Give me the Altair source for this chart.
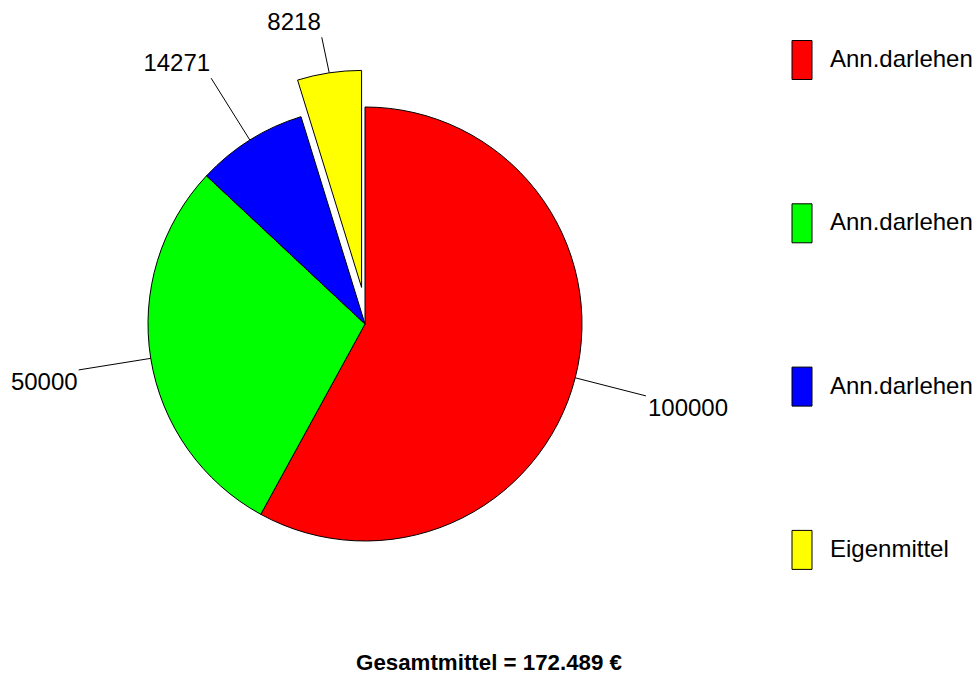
import altair as alt
import pandas as pd

# Data
labels = ["Ann.darlehen", "Ann.darlehen", "Ann.darlehen", "Eigenmittel"]
values = [100000, 50000, 14271, 8218]
colors = ["#ff0000", "#00ff00", "#0000ff", "#ffff00"]
title_text = "Gesamtmittel = 172.489 €"

df = pd.DataFrame({"i": list(range(len(values))), "name": labels, "value": values})

FONT = "Liberation Sans"
CX, CY, R = 365, 324, 217
EXPLODE = 37
LINE_R = 290

base = alt.Chart(df).transform_window(
    cum="sum(value)", sort=[alt.SortField("i")], frame=[None, 0]
).transform_joinaggregate(
    total="sum(value)"
).transform_calculate(
    a0="2*PI*(datum.cum - datum.value)/datum.total",
    a1="2*PI*datum.cum/datum.total",
).transform_calculate(
    mid="(datum.a0 + datum.a1)/2",
    ex=f"datum.i == 3 ? {EXPLODE} : 0",
).transform_calculate(
    cx=f"{CX} + 0.62*datum.ex*sin(datum.mid)",
    cy=f"{CY} - datum.ex*cos(datum.mid)",
).transform_calculate(
    lx1=f"datum.cx + {R}*sin(datum.mid)",
    ly1=f"datum.cy - {R}*cos(datum.mid)",
    lx2=f"{CX} + {LINE_R}*sin(datum.mid)",
    ly2=f"{CY} - {LINE_R}*cos(datum.mid)",
).transform_calculate(
    ty="datum.ly2 + (cos(datum.mid) > 0 ? -14 : 13)",
    right="sin(datum.mid) > 0",
    legy="60 + datum.i*163.3",
).transform_calculate(
    legy1="datum.legy - 19.5",
    legy2="datum.legy + 19.5",
)

color = alt.Color("i:N", scale=alt.Scale(domain=[0, 1, 2, 3], range=colors), legend=None)

arcs = base.mark_arc(radius=R, stroke="black", strokeWidth=1).encode(
    theta=alt.Theta("a0:Q", scale=None),
    theta2="a1:Q",
    x=alt.X("cx:Q", scale=None),
    y=alt.Y("cy:Q", scale=None),
    color=color,
)

lines = base.mark_rule(color="black", strokeWidth=1).encode(
    x=alt.X("lx1:Q", scale=None),
    y=alt.Y("ly1:Q", scale=None),
    x2="lx2:Q",
    y2="ly2:Q",
)

lab_right = base.transform_filter("datum.right").mark_text(
    align="left", baseline="middle", fontSize=24, font=FONT, dx=2, color="black"
).encode(
    x=alt.X("lx2:Q", scale=None),
    y=alt.Y("ty:Q", scale=None),
    text=alt.Text("value:Q", format="d"),
)

lab_left = base.transform_filter("!datum.right").mark_text(
    align="right", baseline="middle", fontSize=24, font=FONT, dx=-1, color="black"
).encode(
    x=alt.X("lx2:Q", scale=None),
    y=alt.Y("ty:Q", scale=None),
    text=alt.Text("value:Q", format="d"),
)

leg_rect = base.mark_rect(stroke="black", strokeWidth=1).encode(
    x=alt.value(792),
    x2=alt.value(812),
    y=alt.Y("legy1:Q", scale=None),
    y2="legy2:Q",
    color=color,
)

leg_text = base.mark_text(
    align="left", baseline="middle", fontSize=24, font=FONT, color="black"
).encode(
    x=alt.value(830),
    y=alt.Y("legy:Q", scale=None),
    text="name:N",
)

title = alt.Chart(pd.DataFrame({"t": [title_text]})).mark_text(
    align="center", baseline="middle", fontSize=22.3, fontWeight="bold", font=FONT, color="black"
).encode(
    x=alt.value(489),
    y=alt.value(663),
    text="t:N",
)

chart = alt.layer(arcs, lines, lab_right, lab_left, leg_rect, leg_text, title).properties(
    width=978, height=676, padding=0, autosize=alt.AutoSizeParams(type="none"),
    background="white",
).configure_view(stroke=None)

chart.save("out.html", embed_options={"renderer": "svg", "actions": False})
